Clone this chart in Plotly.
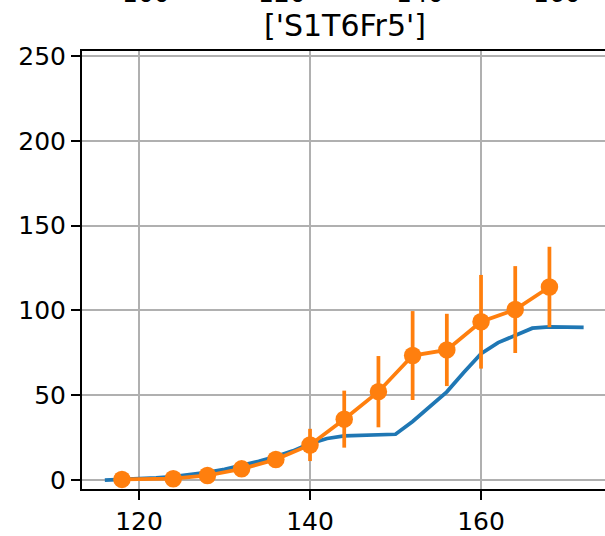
import plotly.graph_objects as go

# Orange series (mean with error bars)
orange_x = [118, 124, 128, 132, 136, 140, 144, 148, 152, 156, 160, 164, 168]
orange_y = [0.4, 0.8, 2.7, 6.6, 12.1, 20.7, 35.9, 52.1, 73.4, 76.7, 93.3, 100.5, 113.8]
orange_err = [0.3, 0.6, 1.2, 2.0, 3.0, 9.5, 16.8, 21.0, 26.2, 21.3, 27.6, 25.6, 23.7]

# Blue series (reference curve)
blue_x = [116, 118, 120, 122, 124, 126, 128, 130, 132, 134, 136, 138, 140, 142, 144,
          146, 148, 150, 152, 154, 156, 158, 160, 162, 164, 166, 168, 170, 172]
blue_y = [0.0, 0.3, 0.8, 1.3, 2.0, 3.0, 4.5, 6.3, 8.6, 11.0, 13.9, 17.2, 21.5, 24.5, 26.0,
          26.2, 26.5, 27.0, 34.5, 43.0, 52.0, 63.5, 74.5, 81.0, 85.5, 89.5, 90.3, 90.0, 90.0]

x_ticks = [120, 140, 160]
y_ticks = [0, 50, 100, 150, 200, 250]
upper_ticks = ["100", "120", "140", "160"]
title_text = "['S1T6Fr5']"

W, H = 605, 536
L, T, B = 82, 51, 44
plot_h = H - T - B
plot_w = W - L

fig = go.Figure()
fig.add_trace(go.Scatter(x=blue_x, y=blue_y, mode="lines",
                         line=dict(color="#1f77b4", width=3.75), showlegend=False))
fig.add_trace(go.Scatter(x=orange_x, y=orange_y, mode="lines+markers",
                         line=dict(color="#ff7f0e", width=3.75),
                         marker=dict(color="#ff7f0e", size=17.5),
                         error_y=dict(type="data", array=orange_err, color="#ff7f0e",
                                      thickness=3.75, width=0),
                         showlegend=False))

font = dict(family="DejaVu Sans", size=25, color="black")

fig.update_layout(
    width=W, height=H,
    margin=dict(l=L, r=0, t=T, b=B, pad=0),
    paper_bgcolor="white", plot_bgcolor="white",
    font=font,
    xaxis=dict(range=[113.33, 174.5], tickvals=x_ticks, ticktext=[str(v) for v in x_ticks],
               showgrid=True, gridcolor="#b0b0b0", gridwidth=2, zeroline=False,
               showline=True, linecolor="black", linewidth=2, mirror=True,
               ticks="outside", ticklen=9, tickwidth=2, tickcolor="black",
               tickfont=font),
    yaxis=dict(range=[-5.27, 252.9], tickvals=y_ticks, ticktext=[str(v) for v in y_ticks],
               showgrid=True, gridcolor="#b0b0b0", gridwidth=2, zeroline=False,
               showline=True, linecolor="black", linewidth=2, mirror=False,
               ticks="outside", ticklen=9, tickwidth=2, tickcolor="black",
               tickfont=font),
)

# title
fig.add_annotation(text=title_text, xref="paper", yref="paper",
                   x=(345 - L) / plot_w, y=(H - B - 25) / plot_h,
                   xanchor="center", yanchor="middle", showarrow=False,
                   font=dict(family="DejaVu Sans", size=30, color="black"))

# partially visible tick labels of the subplot above
for lbl, px in zip(upper_ticks, [146, 282, 420, 557]):
    fig.add_annotation(text=lbl, xref="paper", yref="paper",
                       x=(px - L) / plot_w, y=(H - B + 7) / plot_h,
                       xanchor="center", yanchor="middle", showarrow=False,
                       font=font)

fig.write_html("out.html", config={"displayModeBar": False},
               post_script="document.body.style.margin='0';document.body.style.overflow='hidden';")
